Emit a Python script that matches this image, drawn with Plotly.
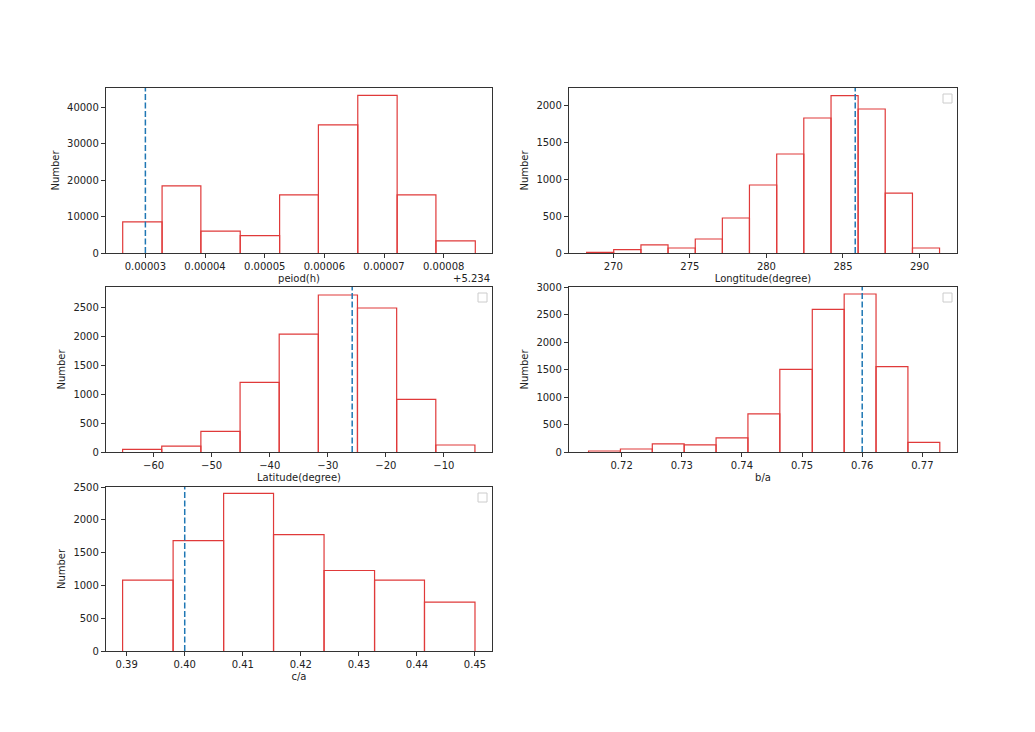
import plotly.graph_objects as go

# period offsets from 5.234 (h)
period_base = 5.234
period_edges = [0.0000262, 0.0000328, 0.0000393, 0.0000459, 0.0000525,
                0.0000590, 0.0000656, 0.0000722, 0.0000787, 0.0000853]
period_counts = [8550, 18450, 5980, 4780, 15980, 35200, 43250, 15980, 3320]
period_mark = 0.00003

lon_edges = [268.25, 270.02, 271.80, 273.57, 275.35, 277.12, 278.89,
             280.67, 282.44, 284.22, 285.99, 287.76, 289.54, 291.31]
lon_counts = [9, 45, 109, 68, 190, 475, 923, 1344, 1833, 2136, 1955, 814, 68]
lon_mark = 285.8

lat_edges = [-65.34, -58.60, -51.86, -45.11, -38.37, -31.63, -24.89,
             -18.14, -11.40, -4.66]
lat_counts = [46, 103, 356, 1201, 2034, 2707, 2483, 908, 121]
lat_mark = -25.8

ba_edges = [0.7145, 0.7198, 0.7251, 0.7304, 0.7357, 0.7410, 0.7463,
            0.7517, 0.7570, 0.7623, 0.7676, 0.7729]
ba_counts = [18, 55, 146, 128, 256, 694, 1503, 2593, 2873, 1552, 176]
ba_mark = 0.76

ca_edges = [0.3893, 0.3980, 0.4067, 0.4153, 0.4240, 0.4327, 0.4413, 0.4500]
ca_counts = [1080, 1684, 2404, 1775, 1227, 1080, 745]
ca_mark = 0.40

W, H = 1035, 732
OFF = 8  # page body margin

# panel boxes in pixels: (left, right, top, bottom)
panels = [
    dict(edges=period_edges, counts=period_counts, mark=period_mark,
         title="peiod(h)", box=(106, 492, 88, 253), xr=[0.0000234, 0.0000881],
         yr=[0, 45300], dtick_y=10000, fmt=".5f", dtick_x=0.00001, legend=False),
    dict(edges=lon_edges, counts=lon_counts, mark=lon_mark,
         title="Longtitude(degree)", box=(569, 957, 88, 253), xr=[267.1, 292.45],
         yr=[0, 2240], dtick_y=500, fmt="d", dtick_x=5, legend=True),
    dict(edges=lat_edges, counts=lat_counts, mark=lat_mark,
         title="Latitude(degree)", box=(106, 492, 287, 452), xr=[-68.2, -1.72],
         yr=[0, 2845], dtick_y=500, fmt="d", dtick_x=10, legend=True),
    dict(edges=ba_edges, counts=ba_counts, mark=ba_mark,
         title="b/a", box=(569, 957, 287, 452), xr=[0.71125, 0.77576],
         yr=[0, 3000], dtick_y=500, fmt=".2f", dtick_x=0.01, legend=True),
    dict(edges=ca_edges, counts=ca_counts, mark=ca_mark,
         title="c/a", box=(106, 492, 487, 651), xr=[0.38644, 0.45293],
         yr=[0, 2500], dtick_y=500, fmt=".2f", dtick_x=0.01, legend=True),
]

fig = go.Figure()
font = dict(family="DejaVu Sans", size=10, color="#222")
shapes = []
annotations = []

for i, p in enumerate(panels):
    n = "" if i == 0 else str(i + 1)
    xa, ya = "x" + n, "y" + n
    # outline of each histogram bar (left side, top, right side)
    xs, ys = [], []
    for k, c in enumerate(p["counts"]):
        lo, hi = p["edges"][k], p["edges"][k + 1]
        xs += [lo, lo, hi, hi, None]
        ys += [0, c, c, 0, None]
    fig.add_trace(go.Scatter(
        x=xs, y=ys, xaxis=xa, yaxis=ya, mode="lines",
        line=dict(color="#e03a3a", width=1.2),
        showlegend=False, hoverinfo="x+y",
    ))
    # dashed marker line spanning the full axis height
    shapes.append(dict(type="line", xref=xa, yref=ya + " domain",
                       x0=p["mark"], x1=p["mark"], y0=0, y1=1,
                       line=dict(color="#1f77b4", width=1.5, dash="6px,2.5px")))
    l, r, t, b = [v - OFF for v in p["box"]]
    axis_common = dict(showline=True, mirror=True, linecolor="#333", linewidth=1.3,
                       ticks="outside", ticklen=4, tickcolor="#333", showgrid=False,
                       zeroline=False, tickfont=font, automargin=False)
    fig.layout["xaxis" + n] = dict(
        domain=[l / W, r / W], anchor=ya, range=p["xr"], dtick=p["dtick_x"],
        tickformat=p["fmt"], title=dict(text=p["title"], font=font, standoff=3),
        **axis_common)
    fig.layout["yaxis" + n] = dict(
        domain=[1 - b / H, 1 - t / H], anchor=xa, range=p["yr"], dtick=p["dtick_y"],
        tickformat="d", title=dict(text="Number", font=font, standoff=5),
        **axis_common)
    if p["legend"]:
        # empty legend box
        shapes.append(dict(type="rect", xref=xa + " domain", yref=ya + " domain",
                           x0=1 - 14 / (r - l), x1=1 - 5 / (r - l),
                           y0=1 - 15 / (b - t), y1=1 - 6 / (b - t),
                           line=dict(color="#ccc", width=1), fillcolor="white"))

annotations.append(dict(text="+" + str(period_base), xref="paper", yref="paper",
                        x=(492 - OFF) / W, y=1 - (278 - OFF) / H,
                        xanchor="right", yanchor="middle",
                        showarrow=False, font=font))

fig.update_layout(width=W, height=H, margin=dict(l=0, r=0, t=0, b=0),
                  plot_bgcolor="white", paper_bgcolor="white",
                  shapes=shapes, annotations=annotations)

fig.write_html("out.html")
